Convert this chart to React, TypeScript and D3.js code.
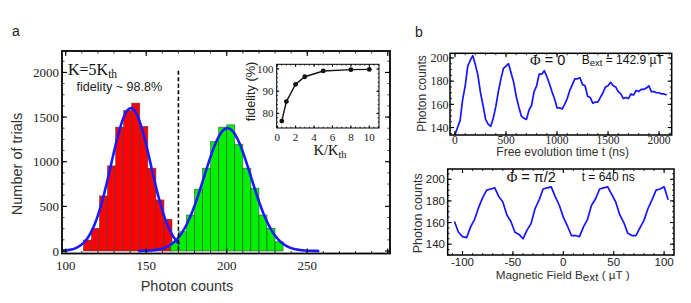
import * as React from 'react';
import * as d3 from 'd3';

const width = 691;
const height = 303;
const serif = "'Liberation Serif', 'Times New Roman', serif";
const sans = "'Liberation Sans', Arial, sans-serif";

// panel a: histograms of photon counts
const binWidth = 5;
const redBinStart = 111;
const redCounts = [123, 254, 617, 953, 1387, 1573, 1656, 1394, 927, 572, 355];
const greenBinStart = 165;
const greenCounts = [104, 216, 403, 692, 927, 1225, 1387, 1413, 1196, 927, 703, 403, 254, 104];
// gaussian fits
const redFit = {mean: 140.5, sigma: 12.3, peak: 1600, from: 97.7, to: 171};
const greenFit = {mean: 200.5, sigma: 14.5, peak: 1375, from: 145, to: 258};
const threshold = 170;
const countTicks = [0, 500, 1000, 1500, 2000];
const photonTicks = [100, 150, 200, 250, 300];

// inset: fidelity vs kappa
const kappaRatio = [0.5, 1, 2, 3, 5, 8, 10];
const fidelity = [76.5, 85.3, 93.1, 96.5, 99.1, 99.7, 99.8];
const kappaTicks = [0, 2, 4, 6, 8, 10];
const fidelityTicks = [80, 90, 100];

// panel b top: Ramsey fringes vs free evolution time (every 25 ns)
const ramseyTime = d3.range(0, 2100, 25);
const ramseyCounts = [
  134, 140, 146, 164, 176, 193, 198, 202, 194, 185, 170, 159, 147, 143, 141, 148, 158, 171, 182, 191,
  193, 195, 187, 179, 167, 158, 150, 148, 147, 155, 159, 171, 176, 186, 186, 189, 184, 178, 171, 165,
  157, 157, 156, 160, 165, 172, 177, 182, 182, 183, 177, 176, 167, 166, 161, 162, 162, 166, 170, 175,
  176, 179, 176, 175, 171, 169, 165, 166, 165, 169, 168, 172, 171, 173, 173, 174, 176, 171, 171, 170,
  170, 169, 169, 168,
];
const timeTicks = [0, 500, 1000, 1500, 2000];
const countTicksB = [140, 160, 180, 200];

// panel b bottom: counts vs magnetic field (every 4 uT)
const fieldValues = d3.range(-108, 108, 4);
const fieldCounts = [
  161, 151, 147, 146, 156, 163, 174, 183, 190, 191, 192, 184, 179, 167, 161, 151, 149, 145, 153, 159,
  173, 181, 191, 192, 193, 184, 176, 165, 157, 148, 148, 147, 156, 163, 176, 182, 191, 192, 193, 186,
  179, 167, 160, 150, 148, 148, 155, 162, 173, 181, 190, 191, 193, 181,
];
const fieldTicks = [-100, -50, 0, 50, 100];

type Lin = d3.ScaleLinear<number, number>;

const between = (s: Lin, step: number) => {
  const [a, b] = s.domain();
  return d3.range(Math.ceil(a / step) * step, b, step);
};

// Mathematica-like frame with inward ticks on all four sides
const Frame = ({x, y, xMajor, xMinor, yMajor, yMinor, major, minor, sw}: {
  x: Lin; y: Lin; xMajor: number[]; xMinor: number; yMajor: number[]; yMinor: number;
  major: number; minor: number; sw: number;
}) => {
  const [l, r] = x.range();
  const [b, t] = y.range();
  const xm = between(x, xMinor);
  const ym = between(y, yMinor);
  return (
    <g stroke="#000" fill="none">
      {xm.map(v => (
        <g key={'x' + v}>
          <line x1={x(v)} x2={x(v)} y1={b} y2={b - minor} strokeWidth={0.8}/>
          <line x1={x(v)} x2={x(v)} y1={t} y2={t + minor} strokeWidth={0.8}/>
        </g>
      ))}
      {ym.map(v => (
        <g key={'y' + v}>
          <line y1={y(v)} y2={y(v)} x1={l} x2={l + minor} strokeWidth={0.8}/>
          <line y1={y(v)} y2={y(v)} x1={r} x2={r - minor} strokeWidth={0.8}/>
        </g>
      ))}
      {xMajor.map(v => (
        <g key={'X' + v}>
          <line x1={x(v)} x2={x(v)} y1={b} y2={b - major} strokeWidth={1.1}/>
          <line x1={x(v)} x2={x(v)} y1={t} y2={t + major} strokeWidth={1.1}/>
        </g>
      ))}
      {yMajor.map(v => (
        <g key={'Y' + v}>
          <line y1={y(v)} y2={y(v)} x1={l} x2={l + major} strokeWidth={1.1}/>
          <line y1={y(v)} y2={y(v)} x1={r} x2={r - major} strokeWidth={1.1}/>
        </g>
      ))}
      <rect x={l} y={t} width={r - l} height={b - t} strokeWidth={sw}/>
    </g>
  );
};

const gauss = (f: typeof redFit) => d3.range(f.from, f.to, 0.5)
  .map(v => [v, f.peak * Math.exp(-((v - f.mean) ** 2) / (2 * f.sigma ** 2))] as [number, number]);

export default function App() {
  const xA = d3.scaleLinear().domain([97.7, 301.4]).range([62, 390]);
  const yA = d3.scaleLinear().domain([-28, 2240]).range([253.5, 51]);
  const xI = d3.scaleLinear().domain([-0.05, 11.05]).range([276.7, 379]);
  const yI = d3.scaleLinear().domain([73.4, 102.1]).range([128, 64.3]);
  const xT = d3.scaleLinear().domain([-49, 2124]).range([450, 671.7]);
  const yT = d3.scaleLinear().domain([133.6, 204]).range([135, 53.3]);
  const xB = d3.scaleLinear().domain([-114.7, 109.8]).range([447.7, 674]);
  const yB = d3.scaleLinear().domain([130, 209.5]).range([255, 169]);

  const fitLine = d3.line<[number, number]>().x(d => xA(d[0])).y(d => yA(d[1]));
  const insetLine = d3.line<number>().x((_, i) => xI(kappaRatio[i])).y(d => yI(d));
  const ramseyLine = d3.line<number>().x((_, i) => xT(ramseyTime[i])).y(d => yT(d));
  const fieldLine = d3.line<number>().x((_, i) => xB(fieldValues[i])).y(d => yB(d));

  const bars = (start: number, counts: number[], fill: string, key: string) => counts.map((c, i) => (
    <rect key={key + i} x={xA(start + i * binWidth)} y={yA(c)}
      width={xA(binWidth) - xA(0)} height={yA(0) - yA(c)}
      fill={fill} stroke="#3a3a3a" strokeOpacity={0.75} strokeWidth={0.7}/>
  ));

  return (
    <svg width={width} height={height} style={{position: 'absolute', left: 0, top: 0, background: '#fff'}}>
      {/* panel a */}
      <text x={12} y={36} fontFamily={sans} fontSize={14} fill="#222">a</text>
      {bars(redBinStart, redCounts, '#ff0000', 'r')}
      {bars(greenBinStart, greenCounts, '#00f000', 'g')}
      <path d={fitLine(gauss(redFit)) ?? ''} fill="none" stroke="#1a1aff" strokeWidth={2.6}/>
      <path d={fitLine(gauss(greenFit)) ?? ''} fill="none" stroke="#1a1aff" strokeWidth={2.6}/>
      <line x1={xA(threshold)} x2={xA(threshold)} y1={yA(2020)} y2={yA(0)}
        stroke="#000" strokeWidth={1.6} strokeDasharray="4,2.5"/>
      <Frame x={xA} y={yA} xMajor={photonTicks} xMinor={10} yMajor={countTicks} yMinor={125}
        major={5} minor={2.5} sw={1.8}/>
      {countTicks.map(v => (
        <text key={v} x={59} y={yA(v)} dy="0.35em" textAnchor="end" fontFamily={serif} fontSize={13} fill="#222">{v}</text>
      ))}
      {photonTicks.slice(0, 4).map(v => (
        <text key={v} x={xA(v)} y={270} textAnchor="middle" fontFamily={serif} fontSize={13} fill="#222">{v}</text>
      ))}
      <text transform="translate(21.5,164) rotate(-90)" textAnchor="middle" fontFamily={sans} fontSize={14.5} fill="#333">Number of trials</text>
      <text x={187} y={290.5} textAnchor="middle" fontFamily={sans} fontSize={14.5} fill="#333">Photon counts</text>
      <text x={68} y={75} fontFamily={serif} fontSize={16} fill="#111">Κ=5Κ<tspan fontSize={11.5} dy={3}>th</tspan></text>
      <text x={76.5} y={90.7} fontFamily={sans} fontSize={12.6} fill="#222">fidelity ~ 98.8%</text>

      {/* inset */}
      <rect x={276.7} y={64.3} width={379 - 276.7} height={128 - 64.3} fill="#fff"/>
      <Frame x={xI} y={yI} xMajor={kappaTicks} xMinor={0.5} yMajor={fidelityTicks} yMinor={2}
        major={2.5} minor={1.3} sw={1}/>
      <path d={insetLine(fidelity) ?? ''} fill="none" stroke="#111" strokeWidth={1.4}/>
      {fidelity.map((f, i) => (
        <circle key={i} cx={xI(kappaRatio[i])} cy={yI(f)} r={2.4} fill="#111"/>
      ))}
      {fidelityTicks.map(v => (
        <text key={v} x={273.5} y={yI(v)} dy="0.35em" textAnchor="end" fontFamily={serif} fontSize={11} fill="#222">{v}</text>
      ))}
      {kappaTicks.map(v => (
        <text key={v} x={xI(v)} y={140.5} textAnchor="middle" fontFamily={serif} fontSize={11} fill="#222">{v}</text>
      ))}
      <text transform="translate(254.5,91.5) rotate(-90)" textAnchor="middle" fontFamily={sans} fontSize={12.8} fill="#222">fidelity (%)</text>
      <text x={330} y={155} textAnchor="middle" fontFamily={serif} fontSize={14.5} fill="#111">Κ/Κ<tspan fontSize={10.5} dy={3}>th</tspan></text>

      {/* panel b */}
      <text x={415} y={37} fontFamily={sans} fontSize={14} fill="#222">b</text>
      <path d={ramseyLine(ramseyCounts) ?? ''} fill="none" stroke="#1515ff" strokeWidth={1.7} strokeLinejoin="round"/>
      <Frame x={xT} y={yT} xMajor={timeTicks} xMinor={100} yMajor={countTicksB} yMinor={5}
        major={4} minor={2} sw={1.5}/>
      {countTicksB.map(v => (
        <text key={v} x={448.5} y={yT(v)} dy="0.35em" textAnchor="end" fontFamily={serif} fontSize={12} fill="#222">{v}</text>
      ))}
      {timeTicks.map(v => (
        <text key={v} x={xT(v)} y={143.5} textAnchor="middle" fontFamily={serif} fontSize={11.5} fill="#222">{v}</text>
      ))}
      <text transform="translate(426,93.5) rotate(-90)" textAnchor="middle" fontFamily={sans} fontSize={12} fill="#333">Photon counts</text>
      <text x={562.7} y={156} textAnchor="middle" fontFamily={sans} fontSize={12} fill="#333">Free evolution time t (ns)</text>
      <text x={530} y={65} fontFamily={sans} fontSize={14.5} fill="#111"><tspan fontFamily={serif}>Φ</tspan> = 0</text>
      <text x={581.7} y={63.5} fontFamily={sans} fontSize={12} fill="#111">B<tspan fontSize={9.5} dy={2.5}>ext</tspan><tspan dy={-2.5}> = 142.9 µT</tspan></text>

      <path d={fieldLine(fieldCounts) ?? ''} fill="none" stroke="#1515ff" strokeWidth={1.7} strokeLinejoin="round"/>
      <Frame x={xB} y={yB} xMajor={fieldTicks} xMinor={10} yMajor={countTicksB} yMinor={5}
        major={4} minor={2} sw={1.5}/>
      {countTicksB.map(v => (
        <text key={v} x={445} y={yB(v)} dy="0.35em" textAnchor="end" fontFamily={sans} fontSize={11.5} fill="#222">{v}</text>
      ))}
      {fieldTicks.map(v => (
        <text key={v} x={xB(v)} y={265.5} textAnchor="middle" fontFamily={sans} fontSize={11.5} fill="#222">{v}</text>
      ))}
      <text transform="translate(421.5,213.3) rotate(-90)" textAnchor="middle" fontFamily={sans} fontSize={12.5} fill="#333">Photon counts</text>
      <text x={562.7} y={279} textAnchor="middle" fontFamily={sans} fontSize={11.7} fill="#333">Magnetic Field B<tspan dy={1.5}>ext</tspan><tspan dy={-1.5}> ( µT )</tspan></text>
      <text x={506.7} y={181.7} fontFamily={sans} fontSize={14.5} fill="#111"><tspan fontFamily={serif}>Φ</tspan> = π/2</text>
      <text x={581.7} y={180.7} fontFamily={sans} fontSize={12} fill="#111">t = 640 ns</text>
    </svg>
  );
}
